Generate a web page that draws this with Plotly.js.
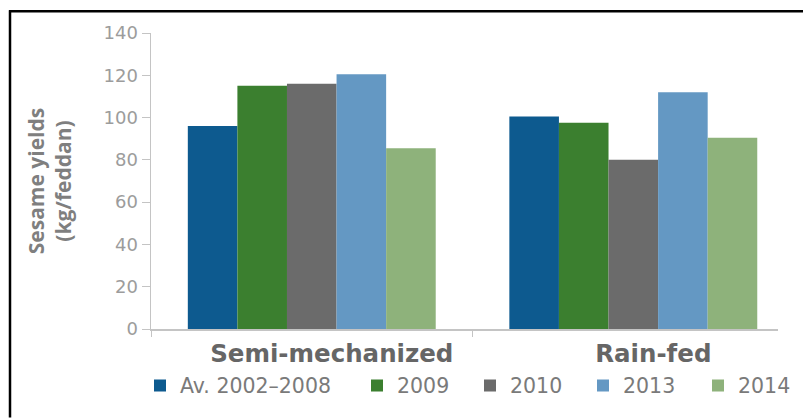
<!DOCTYPE html>
<html>
<head>
<meta charset="utf-8">
<script src="https://cdn.plot.ly/plotly-3.0.1.min.js"></script>
<style>
  html, body { margin: 0; padding: 0; background: #fff; }
  #chart { width: 803px; height: 418px; }
</style>
</head>
<body>
<div id="chart"></div>
<script>
// ---- data ----
var categories = ["Semi-mechanized", "Rain-fed"];
var seriesNames = ["Av. 2002\u20132008", "2009", "2010", "2013", "2014"];
var avg2002_2008 = [96, 100.5];
var y2009 = [115, 97.5];
var y2010 = [116, 80];
var y2013 = [120.5, 112];
var y2014 = [85.5, 90.5];
var yTicks = [0, 20, 40, 60, 80, 100, 120, 140];

// ---- styles ----
var colors = ["#0d5a8f", "#3b7f2f", "#6b6b6b", "#6498c3", "#8eb27b"];
var legendWidths = [172, 68, 68, 70, 60];
var values = [avg2002_2008, y2009, y2010, y2013, y2014];

var traces = values.map(function (v, i) {
  return {
    type: "bar",
    name: seriesNames[i],
    x: categories,
    y: v,
    marker: { color: colors[i], line: { width: 0 } },
    legendwidth: legendWidths[i],
    hoverinfo: "x+y+name"
  };
});

// pixel helpers for the frame (paper coordinates)
var L = 151, T = 33, W = 627, H = 298;
function px(x) { return (x - L) / W; }
function py(y) { return (T + H - y) / H; }

var layout = {
  width: 803,
  height: 418,
  margin: { l: L, r: 803 - L - W, t: T, b: 418 - T - H, pad: 0 },
  paper_bgcolor: "#ffffff",
  plot_bgcolor: "#ffffff",
  barmode: "group",
  bargap: 0.229,
  bargroupgap: 0,
  showlegend: true,
  legend: {
    orientation: "h",
    x: px(143),
    xanchor: "left",
    y: py(388),
    yanchor: "middle",
    font: { family: "DejaVu Sans", size: 20.5, color: "#7a7a7a" },
    traceorder: "normal",
    bgcolor: "rgba(0,0,0,0)"
  },
  xaxis: {
    type: "category",
    range: [-0.5, 1.45],
    showline: true,
    linecolor: "#c4c4c4",
    linewidth: 1.5,
    ticks: "outside",
    tickson: "boundaries",
    ticklen: 6,
    tickcolor: "#c4c4c4",
    ticklabelshift: 20,
    ticklabelstandoff: 2,
    tickfont: { family: "DejaVu Sans", size: 24.5, color: "#666666", weight: "bold" },
    showgrid: false,
    zeroline: false,
    automargin: false,
    fixedrange: true
  },
  yaxis: {
    range: [0, 140],
    tickvals: yTicks,
    ticktext: yTicks.map(String),
    showline: true,
    linecolor: "#c4c4c4",
    linewidth: 1.5,
    ticks: "outside",
    ticklen: 8,
    tickcolor: "#c4c4c4",
    tickfont: { family: "DejaVu Sans", size: 18, color: "#9c9c9c" },
    showgrid: false,
    zeroline: false,
    automargin: false,
    fixedrange: true,
    title: {
      text: "Sesame yields<br>(kg/feddan)",
      font: { family: "Open Sans", size: 21, color: "#7f7f7f", weight: "bold" },
      standoff: 26
    }
  },
  shapes: [
    { type: "line", xref: "paper", yref: "paper",
      x0: px(9), x1: px(805), y0: py(11), y1: py(11),
      line: { color: "#000000", width: 2.5 } },
    { type: "line", xref: "paper", yref: "paper",
      x0: px(10), x1: px(10), y0: py(10), y1: py(420),
      line: { color: "#000000", width: 2.5 } }
  ]
};

Plotly.newPlot("chart", traces, layout, { displayModeBar: false, staticPlot: true });
</script>
</body>
</html>
